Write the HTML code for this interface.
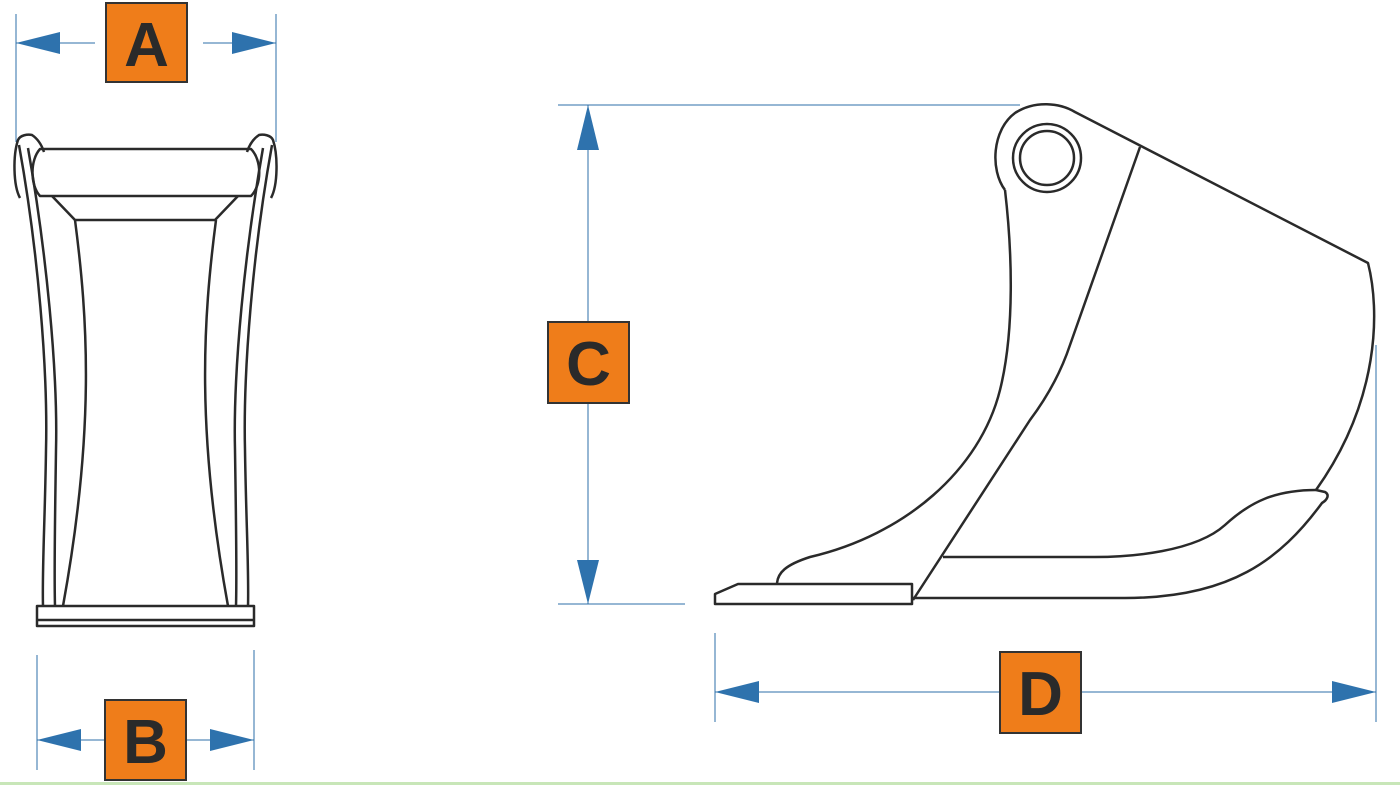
<!DOCTYPE html>
<html><head><meta charset="utf-8"><style>
html,body{margin:0;padding:0;background:#fff;}
svg{display:block;}
text{font-family:"Liberation Sans",sans-serif;font-weight:bold;font-size:62px;fill:#2a2a2a;}
</style></head><body>
<svg width="1400" height="785" viewBox="0 0 1400 785" xmlns="http://www.w3.org/2000/svg">
<rect x="0" y="782" width="1400" height="3" fill="#c8e6b8"/>
<g stroke="#2e6fa8" stroke-width="1" fill="none">
<line x1="16" y1="14" x2="16" y2="142"/><line x1="276" y1="14" x2="276" y2="142"/>
<line x1="16" y1="43" x2="95" y2="43"/><line x1="203" y1="43" x2="276" y2="43"/>
<line x1="37" y1="655" x2="37" y2="770"/><line x1="254" y1="650" x2="254" y2="770"/>
<line x1="37" y1="740" x2="105" y2="740"/><line x1="186" y1="740" x2="254" y2="740"/>
<line x1="588" y1="105" x2="588" y2="322"/><line x1="588" y1="403" x2="588" y2="604"/>
<line x1="558" y1="105" x2="1020" y2="105"/><line x1="558" y1="604" x2="685" y2="604"/>
<line x1="715" y1="692" x2="1000" y2="692"/><line x1="1081" y1="692" x2="1376" y2="692"/>
<line x1="715" y1="633" x2="715" y2="722"/><line x1="1376" y1="345" x2="1376" y2="722"/>
</g>
<g fill="#2e72ad">
<polygon points="16,43 60,32 60,54"/><polygon points="276,43 232,32 232,54"/>
<polygon points="37,740 81,729 81,751"/><polygon points="254,740 210,729 210,751"/>
<polygon points="588,105 577,150 599,150"/><polygon points="588,604 577,560 599,560"/>
<polygon points="715,692 759,681 759,703"/><polygon points="1376,692 1332,681 1332,703"/>
</g>
<g fill="#ef7d1a" stroke="#333" stroke-width="2">
<rect x="106" y="3" width="81" height="79"/>
<rect x="105" y="700" width="81" height="80"/>
<rect x="548" y="322" width="81" height="81"/>
<rect x="1000" y="652" width="81" height="81"/>
</g>
<text x="146.5" y="66" text-anchor="middle">A</text>
<text x="145.5" y="763" text-anchor="middle">B</text>
<text x="588.5" y="385" text-anchor="middle">C</text>
<text x="1040.5" y="715" text-anchor="middle">D</text>
<g stroke="#2a2a2a" stroke-width="2.5" fill="none" stroke-linejoin="round">
<rect x="37" y="606" width="217" height="20"/>
<line x1="37" y1="620" x2="254" y2="620"/>
<path d="M40,149 L251,149 C262,160 262,185 251,196 L40,196 C30,185 30,160 40,149 Z"/>
<path d="M52,196 L75,220 L215,220 L238,196"/>
<g id="side">
<path d="M20,198 C13,185 13,155 18,140 C20,135 28,134 32,135 C38,139 42,146 44,152"/>
<path d="M19,145 C38,250 48,370 46,450 C45,520 42,570 43,606"/>
<path d="M28,148 C46,250 58,370 56,450 C55,520 54,570 55,606"/>
<path d="M75,220 C88,320 95,430 63,606"/>
</g>
<use href="#side" transform="translate(291,0) scale(-1,1)"/>
</g>
<g stroke="#2a2a2a" stroke-width="2.5" fill="none" stroke-linejoin="round">
<circle cx="1047" cy="158" r="34"/>
<circle cx="1047" cy="158" r="27"/>
<path d="M1005,190 C990,170 992,130 1015,113 C1035,100 1060,103 1075,112 L1368,263 C1380,310 1380,400 1316,490"/>
<path d="M1316,490 L1325,492 C1330,495 1327,500 1322,503 C1280,560 1230,598 1125,598 L913,598"/>
<path d="M1316,490 C1275,490 1250,502 1225,525 C1195,552 1130,557 1095,557 L943,557"/>
<path d="M1140,147 L1070,345 C1060,375 1045,400 1030,420 L913,600"/>
<path d="M1005,190 C1012,250 1015,330 1000,390 C980,470 905,535 810,557 C785,565 778,573 777,583"/>
<path d="M715,594 L738,584 L912,584 L912,604 L715,604 Z"/>
</g>
</svg>
</body></html>
